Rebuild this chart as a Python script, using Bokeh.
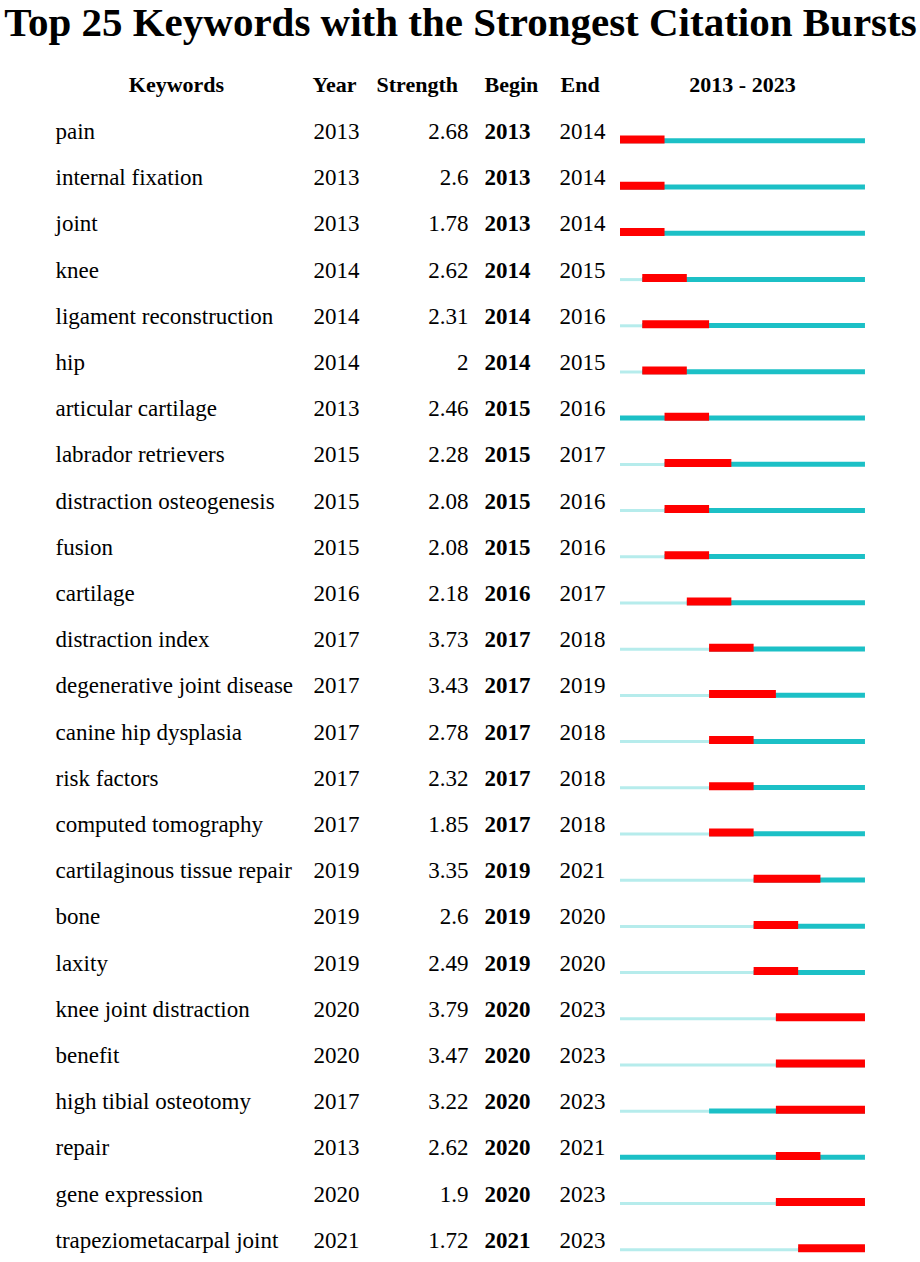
from bokeh.plotting import figure
from bokeh.models import Range1d, ColumnDataSource
from bokeh.embed import file_html
from bokeh.resources import INLINE
from bokeh.core.properties import value

keywords = ["pain", "internal fixation", "joint", "knee", "ligament reconstruction", "hip",
            "articular cartilage", "labrador retrievers", "distraction osteogenesis", "fusion",
            "cartilage", "distraction index", "degenerative joint disease", "canine hip dysplasia",
            "risk factors", "computed tomography", "cartilaginous tissue repair", "bone", "laxity",
            "knee joint distraction", "benefit", "high tibial osteotomy", "repair",
            "gene expression", "trapeziometacarpal joint"]
years = [2013, 2013, 2013, 2014, 2014, 2014, 2013, 2015, 2015, 2015, 2016, 2017, 2017, 2017,
         2017, 2017, 2019, 2019, 2019, 2020, 2020, 2017, 2013, 2020, 2021]
strengths = ["2.68", "2.6", "1.78", "2.62", "2.31", "2", "2.46", "2.28", "2.08", "2.08", "2.18",
             "3.73", "3.43", "2.78", "2.32", "1.85", "3.35", "2.6", "2.49", "3.79", "3.47",
             "3.22", "2.62", "1.9", "1.72"]
begins = [2013, 2013, 2013, 2014, 2014, 2014, 2015, 2015, 2015, 2015, 2016, 2017, 2017, 2017,
          2017, 2017, 2019, 2019, 2019, 2020, 2020, 2020, 2020, 2020, 2021]
ends = [2014, 2014, 2014, 2015, 2016, 2015, 2016, 2017, 2016, 2016, 2017, 2018, 2019, 2018,
        2018, 2018, 2021, 2020, 2020, 2023, 2023, 2023, 2021, 2023, 2023]
span_start, span_end = 2013, 2023
title = "Top 25 Keywords with the Strongest Citation Bursts"
headers = ["Keywords", "Year", "Strength", "Begin", "End", "2013 - 2023"]

FONT = value("Liberation Serif")
W, H = 918, 1258
ROW0, ROW_H = 131.0, 46.2
PX_PER_YEAR = 22.27
X_2013 = 619.5

p = figure(width=W, height=H, output_backend="svg", toolbar_location=None,
           x_range=Range1d(0, W), y_range=Range1d(H, 0),
           min_border=0, outline_line_color=None)
p.axis.visible = False
p.grid.visible = False
p.background_fill_color = "white"

ystart = span_start - X_2013 / PX_PER_YEAR
p.extra_x_ranges = {"yrs": Range1d(ystart, ystart + W / PX_PER_YEAR)}

n = len(keywords)
mid = [ROW0 + i * ROW_H for i in range(n)]

src = ColumnDataSource(dict(kw=keywords, yr=[str(y) for y in years], st=strengths,
                            bg=[str(b) for b in begins], en=[str(e) for e in ends],
                            mid=mid,
                            first=years, yend=[span_end + 1] * n, s0=[span_start] * n,
                            b0=begins, e1=[e + 1 for e in ends],
                            ylight=[m + 9.5 for m in mid], yteal=[m + 9.3 for m in mid],
                            yred=[m + 8.0 for m in mid]))

# title
p.text(x=[460], y=[21], text=[title],
       text_font=FONT, text_font_size="41px", text_font_style="bold",
       text_align="center", text_baseline="middle", text_color="black")

# headers
hx = [176, 312, 376, 484, 560, 742]
ha = ["center", "left", "left", "left", "left", "center"]
p.text(x=hx, y=[84] * 6, text=headers, text_font=FONT, text_font_size="22px",
       text_font_style="bold", text_align=ha, text_baseline="middle", text_color="black")

common = dict(source=src, y="mid", text_font=FONT, text_font_size="23px",
              text_baseline="middle", text_color="black")
p.text(x=55, text="kw", text_align="left", **common)
p.text(x=313, text="yr", text_align="left", **common)
p.text(x=468, text="st", text_align="right", **common)
p.text(x=484, text="bg", text_align="left", text_font_style="bold", **common)
p.text(x=559, text="en", text_align="left", **common)

# timeline bars
p.hbar(y="ylight", left="s0", right="first", height=3, color="#B6ECEC", line_width=0,
       source=src, x_range_name="yrs")
p.hbar(y="yteal", left="first", right="yend", height=5, color="#1CC0C6", line_width=0,
       source=src, x_range_name="yrs")
p.hbar(y="yred", left="b0", right="e1", height=8, color="#FF0000", line_width=0,
       source=src, x_range_name="yrs")

open("out.html", "w").write(file_html(p, INLINE))
